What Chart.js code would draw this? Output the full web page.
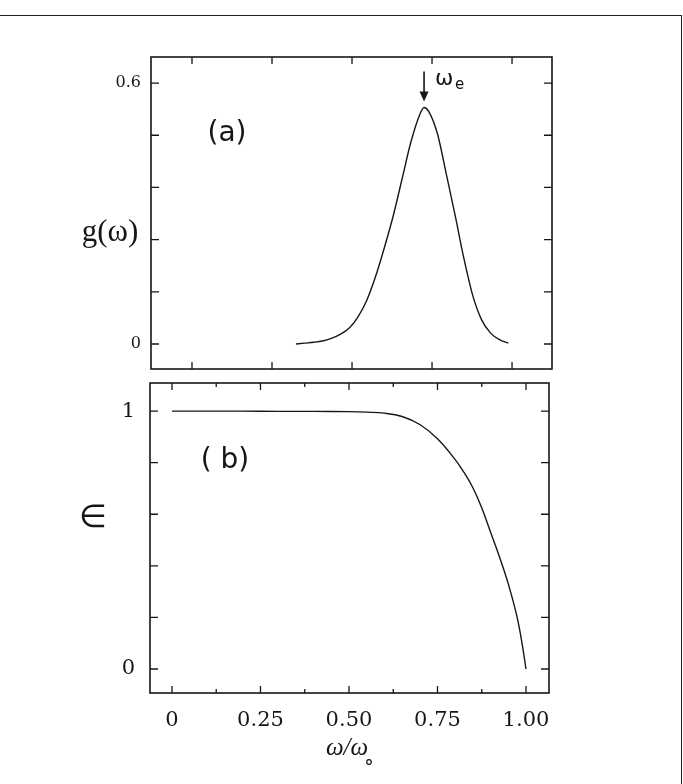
<!DOCTYPE html>
<html><head><meta charset="utf-8">
<script src="https://cdn.jsdelivr.net/npm/chart.js@4.4.1/dist/chart.umd.min.js"></script>
<style>
html,body{margin:0;padding:0;background:#fff;width:683px;height:784px;overflow:hidden;position:relative}
#frame{position:absolute;left:-4px;top:15px;width:686px;height:800px;border-top:1.5px solid #222;border-right:1.5px solid #222;box-sizing:border-box}
#c1wrap{position:absolute;left:0;top:0;width:683px;height:376px}
#c2wrap{position:absolute;left:0;top:376px;width:683px;height:408px}
canvas{display:block}
</style></head><body>
<div id="frame"></div>
<div id="c1wrap"><canvas id="c1" width="683" height="376"></canvas></div>
<div id="c2wrap"><canvas id="c2" width="683" height="408"></canvas></div>
<script>
// ---- data: panel (a) g(omega) ----
const gOmega  = [0.35,0.375,0.40,0.425,0.45,0.475,0.50,0.525,0.55,0.575,0.60,0.625,0.65,0.675,0.70,0.712,0.725,0.75,0.775,0.80,0.825,0.85,0.875,0.90,0.925,0.95];
const gValues = [0,0.002,0.004,0.007,0.013,0.022,0.036,0.062,0.10,0.155,0.222,0.295,0.38,0.465,0.528,0.544,0.535,0.483,0.39,0.295,0.195,0.11,0.055,0.025,0.01,0.002];
const omegaE = 0.712;
// ---- data: panel (b) epsilon ----
const epsOmega  = [0,0.1,0.2,0.3,0.4,0.5,0.55,0.6,0.65,0.7,0.75,0.8,0.825,0.85,0.875,0.9,0.925,0.95,0.975,0.99,1.0];
const epsValues = [1,1,1,0.999,0.999,0.998,0.996,0.992,0.979,0.948,0.893,0.812,0.762,0.703,0.625,0.53,0.435,0.33,0.2,0.09,0];
// ---- ticks ----
const gYTicks = [0,0.12,0.24,0.36,0.48,0.6];
const gYLabels = ['0','','','','','0.6'];
const gXTicks = [0.0565,0.2825,0.5085,0.7345,0.9605];
const epsYTicks = [0,0.2,0.4,0.6,0.8,1];
const epsYLabels = ['0','','','','','1'];
const epsXTicks = [0,0.125,0.25,0.375,0.5,0.625,0.75,0.875,1];
const epsXLabels = ['0','','0.25','','0.50','','0.75','','1.00'];

const INK = '#161616';

function deco(cfg){
  return {
    id:'deco_'+cfg.name,
    afterDraw(chart){
      const {ctx, chartArea:a, scales} = chart;
      const xs = scales.x, ys = scales.y;
      ctx.save();
      ctx.strokeStyle = INK; ctx.fillStyle = INK; ctx.lineWidth = 1.3;
      xs.ticks.forEach((t,i)=>{
        const px = xs.getPixelForValue(t.value);
        const L = cfg.xLen[i % cfg.xLen.length];
        ctx.beginPath();
        ctx.moveTo(px,a.top); ctx.lineTo(px,a.top+L);
        ctx.moveTo(px,a.bottom); ctx.lineTo(px,a.bottom-L);
        ctx.stroke();
      });
      ys.ticks.forEach((t)=>{
        const py = ys.getPixelForValue(t.value);
        ctx.beginPath();
        ctx.moveTo(a.left,py); ctx.lineTo(a.left+cfg.yLen,py);
        ctx.moveTo(a.right,py); ctx.lineTo(a.right-cfg.yLen,py);
        ctx.stroke();
      });
      ctx.lineWidth = 1.6;
      ctx.strokeRect(a.left,a.top,a.right-a.left,a.bottom-a.top);
      cfg.extra(ctx, chart, a, xs, ys);
      ctx.restore();
    }
  };
}

function zeroPad(s){ s.paddingTop = 0; s.paddingBottom = 0; s.paddingLeft = 0; s.paddingRight = 0; }

function baseOptions(o){
  return {
    responsive:false, animation:false, devicePixelRatio:1,
    layout:{padding:o.padding, autoPadding:false},
    plugins:{legend:{display:false}, tooltip:{enabled:false}, title:{display:false}},
    elements:{point:{radius:0}},
    scales:{
      x:{type:'linear', min:o.xmin, max:o.xmax,
         grid:{display:false, drawTicks:false}, border:{display:false},
         afterBuildTicks:(s)=>{ s.ticks = o.xTicks.map(v=>({value:v})); },
         afterFit:(s)=>{ s.height = o.xH; zeroPad(s); },
         ticks:{display:o.xLabels!==null, padding:o.xPad, maxRotation:0, autoSkip:false,
                color:INK, font:{family:'DejaVu Serif', size:o.xFont},
                callback:(v,i)=> o.xLabels ? o.xLabels[i] : ''}},
      y:{type:'linear', min:o.ymin, max:o.ymax,
         grid:{display:false, drawTicks:false}, border:{display:false},
         afterBuildTicks:(s)=>{ s.ticks = o.yTicks.map(v=>({value:v})); },
         afterFit:(s)=>{ s.width = o.yW; zeroPad(s); },
         ticks:{padding:o.yPad, autoSkip:false, color:INK,
                font:{family:'DejaVu Serif', size:o.yFont},
                callback:(v,i)=> o.yLabels[i]}}
    }
  };
}

// ---- panel (a) ----
new Chart(document.getElementById('c1'), {
  type:'line',
  data:{datasets:[{data:gOmega.map((x,i)=>({x, y:gValues[i]})),
    borderColor:INK, borderWidth:1.4, fill:false, cubicInterpolationMode:'monotone'}]},
  options: baseOptions({padding:{left:0,right:131,top:57,bottom:7},
    xmin:-0.0593, xmax:1.0734, ymin:-0.0575, ymax:0.66,
    xTicks:gXTicks, xLabels:null, xH:0, xPad:0, xFont:12,
    yTicks:gYTicks, yLabels:gYLabels, yW:151, yPad:10, yFont:16}),
  plugins:[deco({name:'a', xLen:[7], yLen:8, extra:(ctx,chart,a,xs,ys)=>{
    ctx.textAlign='center'; ctx.textBaseline='middle';
    ctx.font='28px "DejaVu Sans"';
    ctx.fillText('(a)', 227, 134);
    ctx.font='31px "Liberation Serif"';
    ctx.fillText('g(\u03c9)', 110, 233);
    // arrow to omega_e
    const px = xs.getPixelForValue(omegaE);
    const tip = ys.getPixelForValue(gValues[gOmega.indexOf(omegaE)]) - 6;
    ctx.lineWidth=1.6;
    ctx.beginPath(); ctx.moveTo(px, tip-30); ctx.lineTo(px, tip-8); ctx.stroke();
    ctx.beginPath(); ctx.moveTo(px-4.5, tip-10); ctx.lineTo(px+4.5, tip-10); ctx.lineTo(px, tip); ctx.closePath(); ctx.fill();
    ctx.textAlign='left';
    ctx.font='22px "DejaVu Sans"';
    ctx.fillText('\u03c9', px+11, tip-22);
    ctx.font='15px "DejaVu Sans"';
    ctx.fillText('e', px+31, tip-16);
  }})]
});

// ---- panel (b) ----
new Chart(document.getElementById('c2'), {
  type:'line',
  data:{datasets:[{data:epsOmega.map((x,i)=>({x, y:epsValues[i]})),
    borderColor:INK, borderWidth:1.4, fill:false, tension:0.4}]},
  options: baseOptions({padding:{left:0,right:134,top:7,bottom:0},
    xmin:-0.0621, xmax:1.065, ymin:-0.093, ymax:1.109,
    xTicks:epsXTicks, xLabels:epsXLabels, xH:91, xPad:15, xFont:21,
    yTicks:epsYTicks, yLabels:epsYLabels, yW:150, yPad:15, yFont:21}),
  plugins:[deco({name:'b', xLen:[7,4], yLen:8, extra:(ctx,chart,a,xs,ys)=>{
    ctx.textAlign='center'; ctx.textBaseline='middle';
    ctx.font='28px "DejaVu Sans"';
    ctx.fillText('( b)', 225, 85);
    ctx.font='32px "DejaVu Sans"';
    ctx.fillText('\u2208', 93, 143);
    // x-axis title  omega / omega_o
    ctx.font='italic 25px "Liberation Serif"';
    ctx.fillText('\u03c9/\u03c9', 347, 372);
    ctx.lineWidth=1.2;
    ctx.beginPath(); ctx.arc(369, 386, 2.3, 0, Math.PI*2); ctx.stroke();
  }})]
});
</script>
</body></html>
